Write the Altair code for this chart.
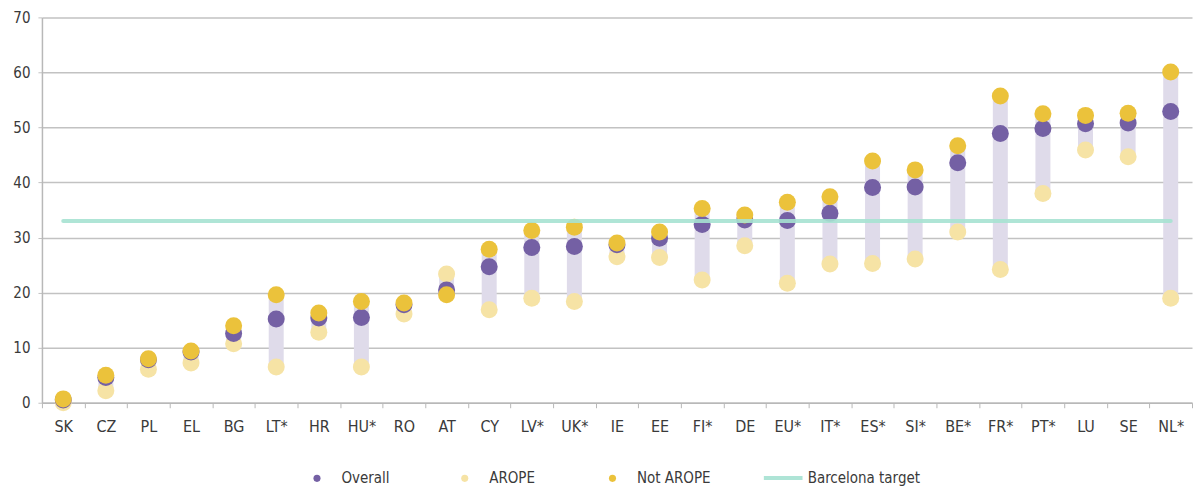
import altair as alt
import pandas as pd

countries = ["SK", "CZ", "PL", "EL", "BG", "LT*", "HR", "HU*", "RO", "AT", "CY", "LV*", "UK*", "IE",
             "EE", "FI*", "DE", "EU*", "IT*", "ES*", "SI*", "BE*", "FR*", "PT*", "LU", "SE", "NL*"]
overall = [0.5, 4.6, 7.8, 9.2, 12.6, 15.2, 15.4, 15.5, 17.8, 20.5, 24.7, 28.2, 28.4, 28.7,
           29.9, 32.4, 33.2, 33.1, 34.4, 39.1, 39.2, 43.6, 48.9, 49.8, 50.7, 50.8, 52.9]
arope = [0.0, 2.2, 6.1, 7.2, 10.7, 6.5, 12.8, 6.5, 16.1, 23.4, 16.9, 19.0, 18.4, 26.5,
         26.4, 22.3, 28.5, 21.7, 25.2, 25.3, 26.1, 31.0, 24.2, 38.0, 45.9, 44.7, 19.0]
not_arope = [0.7, 5.0, 8.0, 9.4, 14.0, 19.6, 16.3, 18.4, 18.1, 19.6, 27.9, 31.3, 31.9, 29.0,
             31.0, 35.3, 34.1, 36.4, 37.4, 43.9, 42.3, 46.7, 55.7, 52.5, 52.2, 52.6, 60.1]
series_names = ["Overall", "AROPE", "Not AROPE"]
series_colors = ["#7460a4", "#f6e3a5", "#ebc23b"]
barcelona_target = 33
target_label = "Barcelona target"

FONT = "DejaVu Sans Condensed"

wide = pd.DataFrame({"country": countries, "overall": overall, "arope": arope, "not_arope": not_arope})
wide["lo"] = wide[["overall", "arope", "not_arope"]].min(axis=1)
wide["hi"] = wide[["overall", "arope", "not_arope"]].max(axis=1)

rows = []
for z, (name, vals) in enumerate([("AROPE", arope), ("Overall", overall), ("Not AROPE", not_arope)]):
    for c, v in zip(countries, vals):
        rows.append({"country": c, "series": name, "value": v, "z": z})
long = pd.DataFrame(rows)

target_df = pd.DataFrame({"start": [countries[0]], "end": [countries[-1]],
                          "y": [barcelona_target], "label": [target_label]})

xscale = alt.Scale(type="band", paddingInner=0, paddingOuter=0, domain=countries)
yscale = alt.Scale(domain=[0, 70], nice=False)

x_enc = alt.X("country:N", scale=xscale, sort=countries,
              axis=alt.Axis(title=None, labelAngle=0, tickBand="extent", tickSize=5,
                            tickColor="#b8b8b8", domainColor="#b8b8b8", domainWidth=1.5,
                            labelPadding=11, labelFont=FONT, labelFontSize=16,
                            labelColor="#3a3a3a", grid=False))
y_axis = alt.Axis(title=None, values=list(range(0, 71, 10)), grid=True, gridColor="#c2c2c2",
                  gridWidth=1.5, tickColor="#c2c2c2", tickSize=4, domainColor="#b8b8b8",
                  domainWidth=1.5, labelFont=FONT, labelFontSize=15, labelColor="#3a3a3a",
                  labelPadding=8)

ranges = alt.Chart(wide).mark_rule(strokeWidth=15, color="#dfdbea", strokeCap="butt").encode(
    x=x_enc,
    y=alt.Y("lo:Q", scale=yscale, axis=y_axis),
    y2="hi:Q",
)

points = alt.Chart(long).mark_circle(size=290, opacity=1).encode(
    x=alt.X("country:N", scale=xscale, sort=countries),
    y=alt.Y("value:Q", scale=yscale),
    color=alt.Color("series:N",
                    scale=alt.Scale(domain=series_names, range=series_colors),
                    legend=alt.Legend(title=None, orient="none", legendX=268, legendY=454,
                                      direction="horizontal", columns=3, gridAlign="all",
                                      columnPadding=42, symbolType="circle", symbolSize=50,
                                      symbolOpacity=1, labelOffset=17, labelFont=FONT,
                                      labelFontSize=15, labelColor="#3a3a3a")),
    order=alt.Order("z:Q"),
)

target = alt.Chart(target_df).mark_rule(strokeWidth=4, opacity=0.9, strokeCap="round").encode(
    x=alt.X("start:N", scale=xscale, sort=countries),
    x2="end:N",
    y=alt.Y("y:Q", scale=yscale),
    color=alt.Color("label:N",
                    scale=alt.Scale(domain=[target_label], range=["#a6e2d2"]),
                    legend=alt.Legend(title=None, orient="none", legendX=721, legendY=440,
                                      symbolType="stroke", symbolSize=1500,
                                      symbolStrokeWidth=4, labelOffset=3, labelFont=FONT,
                                      labelFontSize=15, labelColor="#3a3a3a")),
)

chart = alt.layer(ranges, points, target).resolve_scale(color="independent").properties(
    width=1152, height=386,
    padding={"left": 4, "top": 2, "right": 0, "bottom": 0},
).configure_view(strokeWidth=0)

chart.save("out.html", embed_options={"renderer": "svg", "actions": False})
